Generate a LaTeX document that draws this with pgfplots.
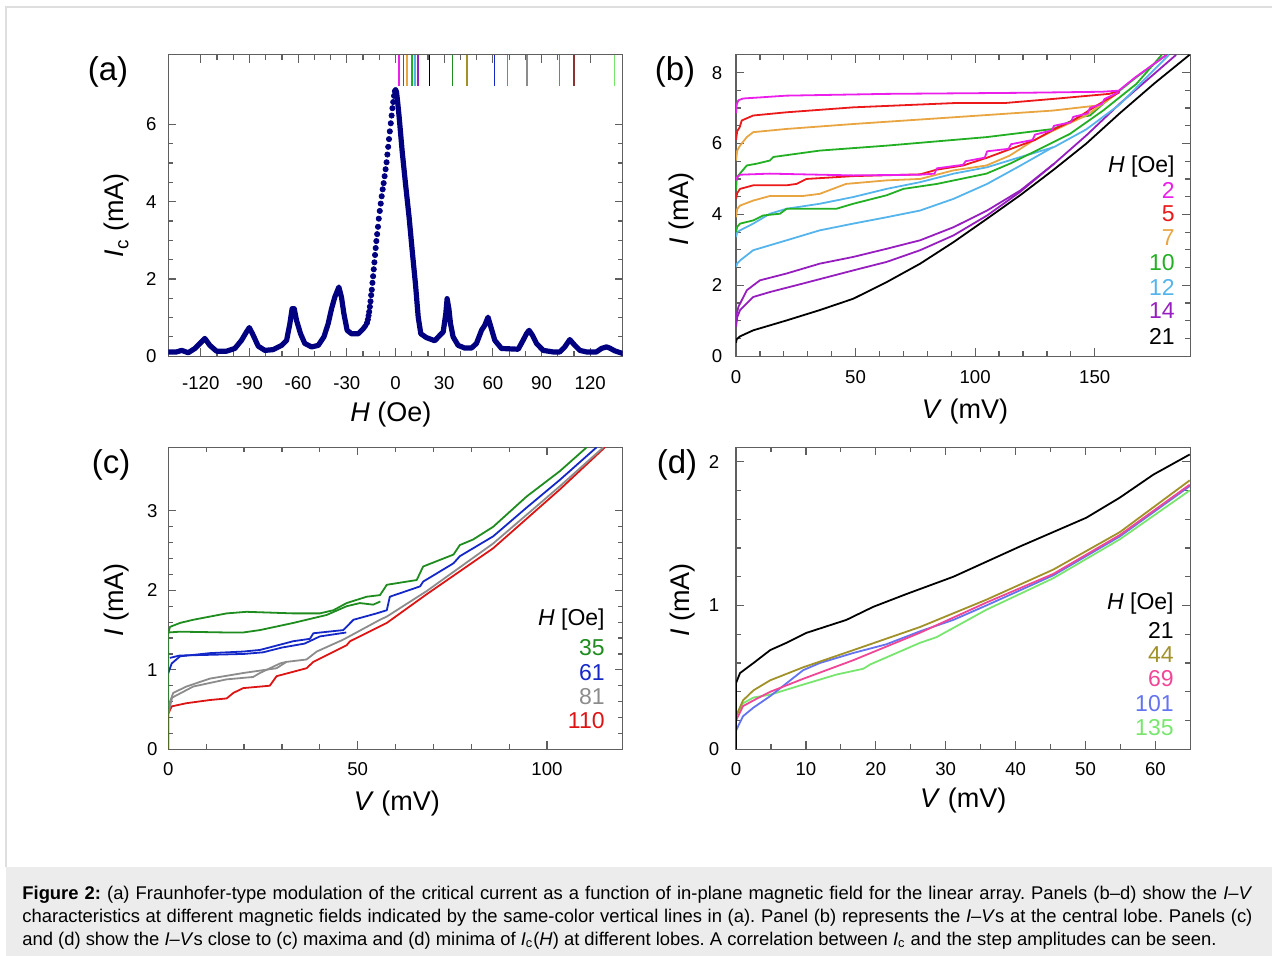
\documentclass[border=0pt]{standalone}
\usepackage{pgfplots}
\pgfplotsset{compat=1.18}
\usepackage{fontspec}
\setmainfont{Liberation Sans}
\definecolor{navyd}{RGB}{0,0,128}
\definecolor{cmag}{RGB}{235,30,235}
\definecolor{cred}{RGB}{235,25,25}
\definecolor{corg}{RGB}{232,165,65}
\definecolor{cgrn}{RGB}{35,175,35}
\definecolor{clb}{RGB}{85,180,235}
\definecolor{cpur}{RGB}{150,30,190}
\definecolor{cdgrn}{RGB}{30,140,30}
\definecolor{cblu}{RGB}{20,40,200}
\definecolor{cgry}{RGB}{140,140,140}
\definecolor{cred2}{RGB}{220,20,20}
\definecolor{coli}{RGB}{160,145,40}
\definecolor{cpnk}{RGB}{240,70,150}
\definecolor{ccorn}{RGB}{100,115,240}
\definecolor{clgr}{RGB}{120,230,110}
\definecolor{cbrn}{RGB}{140,50,50}
\definecolor{capbg}{RGB}{236,236,236}
\definecolor{framec}{RGB}{222,222,222}
\definecolor{axc}{RGB}{95,95,95}
\pgfplotsset{
  myaxis/.style={scale only axis, width=227.2pt, anchor=south west,
    axis line style={draw=axc, line width=0.6pt},
    every tick/.style={axc, line width=0.6pt},
    major tick length=4pt, minor tick length=2.5pt, tick align=inside,
    tick label style={font=\fontsize{9.3}{10}\selectfont},
    /pgf/number format/assume math mode=true,
    label style={font=\fontsize{13.5}{15}\selectfont},
    clip=true},
  iv/.style={line width=0.9pt, line join=round},
}
\newcommand{\lab}[1]{\fontsize{16.5}{18}\selectfont #1}
\newcommand{\leg}{\fontsize{11.5}{12}\selectfont}
\begin{document}
\frenchspacing
\begin{tikzpicture}
\useasboundingbox (0pt,0pt) rectangle (636pt,478pt);
\fill[capbg] (3pt,0pt) rectangle (636pt,44.65pt);
\draw[framec, line width=0.7pt] (3pt,44.65pt) -- (3pt,474.5pt) -- (636pt,474.5pt);

% ---------------- (a)
\begin{axis}[myaxis, at={(84.15pt,299.9pt)}, height=150.65pt,
  xmin=-140, xmax=140, ymin=0, ymax=7.8,
  xtick={-120,-90,-60,-30,0,30,60,90,120},
  xticklabels={-120,-90,-60,-30,0,30,60,90,120},
  minor x tick num=2, ytick={0,2,4,6}, minor y tick num=3,
  xticklabel style={yshift=-6.4pt}, yticklabel style={xshift=-2.4pt},
  xlabel={\textit{H} (Oe)}, ylabel={\textit{I}\textsubscript{c} (mA)},
  xlabel style={at={(axis description cs:0.49,-0.1925)}, anchor=center},
  ylabel style={at={(axis description cs:-0.113,0.468)}, anchor=center}]
\addplot[navyd, line width=2.6pt, line join=round, line cap=round] coordinates {
(-140,0.11)(-134.9,0.11)(-131.8,0.15)(-127.7,0.09)(-123.6,0.2)(-120.5,0.33)(-117.5,0.46)(-114.4,0.28)(-110.3,0.13)(-104.1,0.13)(-99,0.2)(-94.9,0.41)(-91.8,0.63)(-90.1,0.74)(-88.1,0.58)(-84.6,0.26)(-80.5,0.15)(-75.4,0.17)(-70.2,0.28)(-67.1,0.41)(-65.1,0.84)(-63.7,1.23)(-62.4,1.23)(-61,0.93)(-58.5,0.58)(-55.9,0.33)(-51.7,0.24)(-47.6,0.28)(-44.1,0.5)(-41.5,0.84)(-39.4,1.23)(-37.4,1.53)(-34.9,1.79)(-33.3,1.53)(-31.8,1.1)(-29.8,0.67)(-27.1,0.58)(-23,0.58)(-19.9,0.71)(-18.3,0.8)};
\addplot[navyd, only marks, mark=*, mark size=1.3pt] coordinates {
(-17.6,0.86)(-17.0,0.95)(-16.6,1.05)(-16.2,1.15)(-15.8,1.28)(-15.4,1.42)(-15.0,1.58)(-14.6,1.72)(-14.2,1.9)(-13.8,2.07)(-13.4,2.25)(-13.0,2.43)(-12.6,2.62)(-12.2,2.8)(-11.8,2.98)(-11.3,3.16)(-10.8,3.35)(-10.3,3.56)(-9.7,3.76)(-9.1,3.95)(-8.5,4.14)(-7.9,4.32)(-7.3,4.48)(-6.7,4.66)(-6.1,4.84)(-5.5,5.02)(-5.0,5.22)(-4.5,5.42)(-4.0,5.62)(-3.5,5.82)(-2.9,6.03)(-2.4,6.23)(-1.9,6.42)(-1.4,6.58)(-0.9,6.74)(-0.4,6.86)};
\addplot[navyd, line width=2.6pt, line join=round, line cap=round] coordinates {
(0,6.9)(0.6,6.85)(1.4,6.55)(2.3,6.17)(4.1,5.31)(6.2,4.45)(8.4,3.59)(10.3,2.73)(12.3,1.87)(14,1.01)(15.6,0.58)(19.1,0.48)(24.2,0.4)(27.3,0.54)(29.4,0.63)(31,1.1)(31.8,1.49)(32.9,1.23)(33.9,0.84)(35.5,0.5)(38.6,0.28)(42.7,0.21)(46.8,0.21)(49.9,0.33)(53,0.67)(55,0.8)(57,1.01)(59.1,0.71)(61.2,0.41)(65.3,0.2)(75.6,0.18)(78.6,0.41)(80.7,0.58)(82.3,0.67)(84.4,0.54)(86.9,0.33)(91,0.15)(97.1,0.11)(101.2,0.11)(104.3,0.24)(107.4,0.43)(110.5,0.28)(113.6,0.15)(117.7,0.11)(123.8,0.11)(126.9,0.2)(130,0.24)(132,0.21)(135,0.14)(140,0.07)};
\addplot[cmag, line width=0.8pt] coordinates {(2,7)(2,7.8)};
\addplot[cred, line width=0.8pt] coordinates {(5,7)(5,7.8)};
\addplot[corg, line width=0.8pt] coordinates {(7,7)(7,7.8)};
\addplot[cgrn, line width=0.8pt] coordinates {(10,7)(10,7.8)};
\addplot[clb, line width=0.8pt] coordinates {(12,7)(12,7.8)};
\addplot[cpur, line width=0.8pt] coordinates {(14,7)(14,7.8)};
\addplot[black, line width=0.8pt] coordinates {(21,7)(21,7.8)};
\addplot[cdgrn, line width=0.8pt] coordinates {(35,7)(35,7.8)};
\addplot[coli, line width=0.8pt] coordinates {(44,7)(44,7.8)};
\addplot[cblu, line width=0.8pt] coordinates {(61,7)(61,7.8)};
\addplot[cpnk, line width=0.8pt] coordinates {(69,7)(69,7.8)};
\addplot[cgry, line width=0.8pt] coordinates {(81,7)(81,7.8)};
\addplot[ccorn, line width=0.8pt] coordinates {(101,7)(101,7.8)};
\addplot[cbrn, line width=0.8pt] coordinates {(110,7)(110,7.8)};
\addplot[clgr, line width=0.8pt] coordinates {(135,7)(135,7.8)};
\end{axis}

% ---------------- (b)
\begin{axis}[myaxis, at={(368pt,299.9pt)}, height=150.65pt,
  xmin=0, xmax=190, ymin=0, ymax=8.5,
  xtick={0,50,100,150}, minor x tick num=4, ytick={0,2,4,6,8}, minor y tick num=3,
  xticklabel style={yshift=-3.4pt}, yticklabel style={xshift=-3.4pt},
  xlabel={\textit{V} (mV)}, ylabel={\textit{I} (mA)},
  xlabel style={at={(axis description cs:0.504,-0.1825)}, anchor=center},
  ylabel style={at={(axis description cs:-0.121,0.488)}, anchor=center}]
\addplot[iv, black] coordinates {(0,0.38)(0.3,0.48)(1.7,0.56)(7.2,0.73)(21.2,1.01)(35,1.3)(49,1.62)(63,2.09)(77,2.61)(91,3.22)(105,3.88)(119,4.55)(132.6,5.25)(146.5,6.0)(160.4,6.85)(175,7.7)(189.6,8.5)};
\addplot[iv, cpur] coordinates {(0,0.83)(0.5,1.1)(1.7,1.3)(7.2,1.67)(14.2,1.81)(28,2.05)(49,2.42)(63,2.66)(77,2.99)(91,3.41)(105,3.97)(118.7,4.63)(133,5.43)};
\addplot[iv, cpur] coordinates {(0,0.92)(0.3,1.2)(1,1.39)(4.5,1.86)(10,2.14)(21,2.33)(35,2.61)(49,2.8)(63,3.03)(77,3.27)(91,3.64)(105,4.11)(119,4.68)(133,5.43)(146.5,6.23)(160.4,7.12)(184,8.5)};
\addplot[iv, clb] coordinates {(0,2.52)(0.5,2.62)(1.7,2.7)(7.2,2.99)(14.2,3.13)(21.2,3.27)(35,3.55)(49,3.74)(63,3.92)(77,4.11)(91,4.44)(105,4.86)(119,5.38)(132.6,5.9)};
\addplot[iv, clb] coordinates {(0,3.36)(0.5,3.5)(1.7,3.55)(7.2,3.74)(14.2,4.02)(21.2,4.16)(35,4.3)(49,4.49)(63,4.72)(77,4.91)(91,5.15)(105,5.33)(119,5.62)(133,5.9)(146.5,6.4)(160.4,7.1)(181,8.5)};
\addplot[iv, cgrn] coordinates {(0,3.5)(0.5,3.65)(1.7,3.74)(7.2,3.83)(11.4,3.97)(18.4,4.02)(21.2,4.16)(42,4.16)(49,4.3)(63,4.54)(70,4.72)(84,4.86)(104.7,5.15)(114.5,5.43)(125.6,5.8)(139.6,6.27)(153.5,6.93)(167.4,7.68)(178,8.5)};
\addplot[iv, cgrn] coordinates {(0,4.68)(0.3,5.0)(1,5.1)(4.5,5.38)(8.6,5.43)(14.2,5.52)(15.6,5.62)(35,5.8)(63,5.94)(104.7,6.18)(132.6,6.41)(143.7,6.74)(148,6.79)(153.5,7.12)(160.4,7.49)(167.4,7.87)(180,8.5)};
\addplot[iv, corg] coordinates {(0,3.92)(0.5,4.15)(1.7,4.25)(7.2,4.39)(14.2,4.52)(28,4.52)(35,4.58)(46,4.86)(63,4.96)(77,5.0)(90.8,5.24)(104.7,5.38)(114.5,5.66)(124.2,6.08)(132.6,6.36)(146.5,6.79)(160,7.45)};
\addplot[iv, corg] coordinates {(0,5.52)(0.5,5.8)(1.7,5.94)(4.5,6.18)(7.2,6.32)(21,6.41)(49,6.55)(91,6.74)(132.6,6.93)(150.7,7.07)(155,7.21)(160,7.45)};
\addplot[iv, cred] coordinates {(0,4.44)(0.5,4.6)(1.7,4.72)(7.2,4.82)(21,4.82)(25.3,4.86)(29.5,5.0)(49,5.08)(77,5.13)(83.8,5.26)(95,5.38)(105,5.6)(115,5.85)(125,6.1)(133,6.4)(141,6.65)(148,6.95)(154,7.2)(160.4,7.45)};
\addplot[iv, cred] coordinates {(0,6.1)(0.5,6.35)(1.5,6.45)(2.4,6.65)(7.2,6.79)(21,6.88)(49,7.02)(91,7.14)(112,7.14)(133,7.26)(156,7.4)(160.4,7.49)};
\addplot[iv, cmag] coordinates {(0,4.96)(0.5,5.05)(1.7,5.12)(14,5.15)(49,5.1)(77,5.12)(83,5.15)(84,5.3)(95,5.4)(96,5.5)(104,5.6)(105,5.78)(114,5.85)(115,5.98)(124,6.1)(125,6.25)(132,6.37)(133,6.5)(140,6.6)(141,6.75)(147,6.85)(148,7.0)(153,7.12)(154,7.25)(160,7.45)};
\addplot[iv, cmag] coordinates {(0,6.85)(0.3,7.1)(1,7.22)(3,7.27)(10,7.3)(21,7.35)(63,7.4)(119,7.43)(153,7.46)(160,7.49)(167,7.87)(180,8.5)};
\end{axis}

% ---------------- (c)
\begin{axis}[myaxis, at={(84.15pt,103.35pt)}, height=151pt,
  xmin=0, xmax=120, ymin=0, ymax=3.8,
  xtick={0,50,100}, minor x tick num=4, ytick={0,1,2,3}, minor y tick num=4,
  xticklabel style={yshift=-3.2pt}, yticklabel style={xshift=-1.9pt},
  xlabel={\textit{V} (mV)}, ylabel={\textit{I} (mA)},
  xlabel style={at={(axis description cs:0.503,-0.178)}, anchor=center},
  ylabel style={at={(axis description cs:-0.113,0.494)}, anchor=center}]
\addplot[iv, cred2] coordinates {(0,0)(0,0.45)(0.9,0.54)(4.8,0.58)(11,0.62)(15.4,0.64)(17.2,0.71)(19.8,0.77)(26.8,0.8)(28.6,0.92)(36.5,1.02)(38.3,1.1)(47.1,1.31)(48,1.36)(57.7,1.59)(68.2,1.95)(85.8,2.53)(103.4,3.27)(115.3,3.8)};
\addplot[iv, cgry] coordinates {(0,0.45)(1,0.65)(6.6,0.79)(15.4,0.88)(22.4,0.91)(24.2,0.96)(29.5,1.08)(31.2,1.1)};
\addplot[iv, cgry] coordinates {(0,0.54)(1.3,0.71)(4.8,0.79)(11,0.89)(19.8,0.96)(28.6,1.02)(31.2,1.1)(36.5,1.13)(39.2,1.23)(46.2,1.38)(55.9,1.63)(57.7,1.67)(68.2,1.99)(85.8,2.59)(103.4,3.31)(114.9,3.8)};
\addplot[iv, cblu] coordinates {(0,0.96)(0.9,1.08)(3.1,1.17)(11,1.21)(19.8,1.23)(24.2,1.25)(33,1.36)(37.4,1.39)(38.3,1.46)(46.2,1.5)(48.9,1.63)(55,1.71)(57.7,1.75)(58.5,1.92)(66.5,2.05)(67.3,2.11)(75.3,2.34)(77,2.43)(85.8,2.68)(94.6,3.04)(103.4,3.39)(113.1,3.8)};
\addplot[iv, cblu] coordinates {(0.4,1.15)(3,1.18)(12,1.19)(20,1.2)(25,1.22)(30,1.28)(36,1.33)(40,1.42)(47,1.47)};
\addplot[iv, cdgrn] coordinates {(0,0)(0,1.46)(0.44,1.54)(3.1,1.59)(6.6,1.63)(15.4,1.71)(20.7,1.73)(33,1.71)(40,1.71)(43.6,1.75)(47.1,1.84)(52.4,1.92)(55.9,1.94)(57.7,2.07)(65.6,2.13)(67.3,2.3)(75.3,2.45)(77,2.57)(80.5,2.64)(85.8,2.8)(94.6,3.18)(103.4,3.5)(110.5,3.8)};
\addplot[iv, cdgrn] coordinates {(0,1.47)(3.1,1.48)(15.4,1.47)(19.8,1.47)(24.2,1.5)(33,1.59)(41.8,1.69)(47.1,1.8)(50.6,1.84)(54.1,1.82)(56,1.86)};
\end{axis}

% ---------------- (d)
\begin{axis}[myaxis, at={(368pt,103.35pt)}, height=151pt,
  xmin=0, xmax=65, ymin=0, ymax=2.1,
  xtick={0,10,20,30,40,50,60}, minor x tick num=1, ytick={0,1,2}, minor y tick num=4,
  xticklabel style={yshift=-3.2pt}, yticklabel style={xshift=-4.9pt},
  xlabel={\textit{V} (mV)}, ylabel={\textit{I} (mA)},
  xlabel style={at={(axis description cs:0.5,-0.168)}, anchor=center},
  ylabel style={at={(axis description cs:-0.117,0.494)}, anchor=center}]
\addplot[iv, clgr] coordinates {(0,0)(0,0.23)(1,0.32)(2.5,0.36)(4.9,0.38)(9.6,0.45)(14.4,0.52)(18.2,0.56)(19.2,0.59)(26.3,0.74)(28.7,0.78)(35.8,0.97)(45.4,1.19)(54.9,1.46)(64.9,1.8)};
\addplot[iv, ccorn] coordinates {(0,0)(0,0.13)(1,0.23)(2.5,0.29)(4.9,0.37)(9.6,0.55)(12,0.6)(16.8,0.67)(21.5,0.73)(26.3,0.82)(31.1,0.9)(35.8,1.0)(45.4,1.21)(54.9,1.48)(64.9,1.83)};
\addplot[iv, cpnk] coordinates {(0,0)(0,0.2)(1,0.3)(2.5,0.34)(4.9,0.4)(9.6,0.49)(16.8,0.62)(26.3,0.81)(35.8,1.02)(45.4,1.22)(54.9,1.49)(64.9,1.84)};
\addplot[iv, coli] coordinates {(0,0)(0,0.23)(1,0.34)(2.5,0.41)(4.9,0.48)(9.6,0.57)(16.8,0.69)(26.3,0.85)(35.8,1.04)(45.4,1.25)(54.9,1.51)(64.9,1.87)};
\addplot[iv, black] coordinates {(0,0)(0,0.46)(0.57,0.53)(2.5,0.6)(4.9,0.69)(7.2,0.74)(10.1,0.81)(12,0.84)(15.8,0.9)(19.6,0.99)(24.4,1.08)(31.1,1.2)(40.6,1.41)(50.1,1.61)(54.9,1.75)(59.7,1.91)(64.9,2.05)};
\end{axis}

% panel labels
\node[anchor=center] at (54pt,442pt) {\lab{(a)}};
\node[anchor=center] at (337.5pt,442pt) {\lab{(b)}};
\node[anchor=center] at (55.5pt,245.5pt) {\lab{(c)}};
\node[anchor=center] at (338.5pt,245.5pt) {\lab{(d)}};

% legends (b)
\node[anchor=east, inner sep=0pt] at (587.5pt,394.6pt) {\leg\textit{H} [Oe]};
\node[anchor=east, inner sep=0pt, text=cmag] at (587.5pt,382.85pt) {\leg 2};
\node[anchor=east, inner sep=0pt, text=cred] at (587.5pt,371pt) {\leg 5};
\node[anchor=east, inner sep=0pt, text=corg] at (587.5pt,359pt) {\leg 7};
\node[anchor=east, inner sep=0pt, text=cgrn] at (587.5pt,346.5pt) {\leg 10};
\node[anchor=east, inner sep=0pt, text=clb] at (587.5pt,334.25pt) {\leg 12};
\node[anchor=east, inner sep=0pt, text=cpur] at (587.5pt,322.5pt) {\leg 14};
\node[anchor=east, inner sep=0pt, text=black] at (587.5pt,310pt) {\leg 21};
% legends (c)
\node[anchor=east, inner sep=0pt] at (302.5pt,168pt) {\leg\textit{H} [Oe]};
\node[anchor=east, inner sep=0pt, text=cdgrn] at (302.5pt,154.25pt) {\leg 35};
\node[anchor=east, inner sep=0pt, text=cblu] at (302.5pt,141.85pt) {\leg 61};
\node[anchor=east, inner sep=0pt, text=cgry] at (302.5pt,129.65pt) {\leg 81};
\node[anchor=east, inner sep=0pt, text=cred2] at (302.5pt,117.5pt) {\leg 110};
% legends (d)
\node[anchor=east, inner sep=0pt] at (587pt,176.35pt) {\leg\textit{H} [Oe]};
\node[anchor=east, inner sep=0pt, text=black] at (587pt,163pt) {\leg 21};
\node[anchor=east, inner sep=0pt, text=coli] at (587pt,150.5pt) {\leg 44};
\node[anchor=east, inner sep=0pt, text=cpnk] at (587pt,138.85pt) {\leg 69};
\node[anchor=east, inner sep=0pt, text=ccorn] at (587pt,126.35pt) {\leg 101};
\node[anchor=east, inner sep=0pt, text=clgr] at (587pt,114.35pt) {\leg 135};

% caption
\begin{scope}[every node/.style={anchor=base west, inner sep=0pt, font=\fontsize{9.2}{11.5}\selectfont}]
\node at (11pt,28pt) {\makebox[615pt][s]{\textbf{Figure 2:} (a) Fraunhofer-type modulation of the critical current as a function of in-plane magnetic field for the linear array. Panels (b–d) show the \textit{I–V}}};
\node at (11pt,16.5pt) {\makebox[615pt][s]{characteristics at different magnetic fields indicated by the same-color vertical lines in (a). Panel (b) represents the \textit{I–V}s at the central lobe. Panels (c)}};
\node at (11pt,5pt) {and (d) show the \textit{I–V}s close to (c) maxima and (d) minima of \textit{I}\textsubscript{c}(\textit{H}) at different lobes. A correlation between \textit{I}\textsubscript{c} and the step amplitudes can be seen.};
\end{scope}
\end{tikzpicture}
\end{document}
